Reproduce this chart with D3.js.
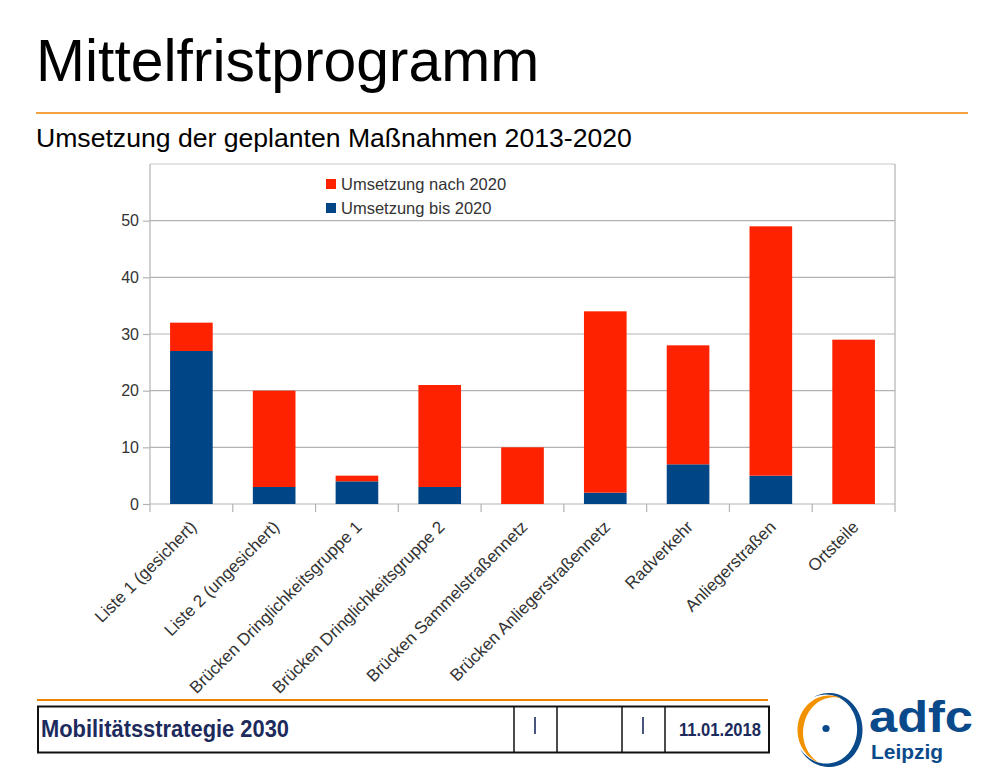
<!DOCTYPE html>
<html>
<head>
<meta charset="utf-8">
<script src="https://cdn.jsdelivr.net/npm/d3@7"></script>
<style>
  body { margin: 0; background: #fff; }
  svg { display: block; font-family: "Liberation Sans", Arial, sans-serif; }
</style>
</head>
<body>
<script>
// chart data
const categories = [
    "Liste 1 (gesichert)",
    "Liste 2 (ungesichert)",
    "Brücken Dringlichkeitsgruppe 1",
    "Brücken Dringlichkeitsgruppe 2",
    "Brücken Sammelstraßennetz",
    "Brücken Anliegerstraßennetz",
    "Radverkehr",
    "Anliegerstraßen",
    "Ortsteile"
];
const bisValues = [27, 3, 4, 3, 0, 2, 7, 5, 0];
const nachValues = [5, 17, 1, 18, 10, 32, 21, 44, 29];
const seriesNames = ["Umsetzung bis 2020", "Umsetzung nach 2020"];
const seriesColors = ["#004586", "#ff2200"];
const yTicks = [0, 10, 20, 30, 40, 50];

const width = 1000, height = 774;
const plot = {left: 150, right: 895, top: 164, bottom: 504};
const orange = "#f08300", navy = "#1c2a5c";

var svg = d3.select("body").append("svg")
    .attr("width", width)
    .attr("height", height);

// slide header
svg.append("text")
    .attr("x", 36).attr("y", 81)
    .attr("font-size", 58.8)
    .attr("fill", "#000")
    .text("Mittelfristprogramm");
svg.append("line")
    .attr("x1", 36).attr("x2", 968)
    .attr("y1", 113).attr("y2", 113)
    .attr("stroke", orange).attr("stroke-width", 1.5);
svg.append("text")
    .attr("x", 36).attr("y", 147)
    .attr("font-size", 26.6)
    .attr("fill", "#000")
    .text("Umsetzung der geplanten Maßnahmen 2013-2020");

// scales
var x = d3.scaleBand().domain(categories)
    .range([plot.left, plot.right])
    .paddingInner(0.485).paddingOuter(0.2425);
var y = d3.scaleLinear().domain([0, 60]).range([plot.bottom, plot.top]);
var step = x.step();
var boundary = i => plot.left + i * step;

var table = categories.map((c, i) => ({cat: c, bis: bisValues[i], nach: nachValues[i]}));
var stack = d3.stack().keys(["bis", "nach"])(table);

// grid
svg.append("g").selectAll("line").data(yTicks).enter()
    .append("line")
    .attr("x1", plot.left).attr("x2", plot.right)
    .attr("y1", d => y(d)).attr("y2", d => y(d))
    .attr("stroke", "#b3b3b3").attr("stroke-width", 1.2);
svg.append("line")
    .attr("x1", plot.left).attr("x2", plot.right)
    .attr("y1", plot.top).attr("y2", plot.top)
    .attr("stroke", "#c8c8c8").attr("stroke-width", 1.2);

// bars
svg.append("g").selectAll("g").data(stack).enter()
    .append("g")
    .attr("fill", (d, i) => seriesColors[i])
    .selectAll("rect")
    .data(d => d)
    .enter()
    .append("rect")
    .attr("x", d => x(d.data.cat))
    .attr("width", x.bandwidth())
    .attr("y", d => y(d[1]))
    .attr("height", d => y(d[0]) - y(d[1]));

// y axis
var yAxis = d3.axisLeft(y).tickValues(yTicks).tickSize(7).tickSizeOuter(0).tickPadding(4);
var ga = svg.append("g")
    .attr("transform", "translate(" + plot.left + ",0)")
    .call(yAxis);
ga.select(".domain").remove();
ga.selectAll(".tick line").attr("stroke", "#b3b3b3").attr("stroke-width", 1.2);
ga.selectAll(".tick text")
    .attr("font-size", 16)
    .attr("font-family", "Liberation Sans, Arial, sans-serif")
    .attr("fill", "#333");

// axis frame lines + category ticks
svg.append("g").selectAll("line").data(d3.range(categories.length + 1)).enter()
    .append("line")
    .attr("x1", i => boundary(i)).attr("x2", i => boundary(i))
    .attr("y1", i => (i === 0 || i === categories.length) ? plot.top : plot.bottom)
    .attr("y2", plot.bottom + 8)
    .attr("stroke", "#b3b3b3").attr("stroke-width", 1.2);

// category labels
svg.append("g").selectAll("text").data(categories).enter()
    .append("text")
    .attr("transform", d => "translate(" + (x(d) + x.bandwidth() / 2 + 6) + "," + (plot.bottom + 24) + ") rotate(-45)")
    .attr("text-anchor", "end")
    .attr("font-size", 17)
    .attr("fill", "#333")
    .text(d => d);

// legend (nach first, like the source)
var legendOrder = [1, 0];
var lg = svg.append("g").selectAll("g").data(legendOrder).enter()
    .append("g")
    .attr("transform", (d, i) => "translate(326," + (184 + i * 24) + ")");
lg.append("rect")
    .attr("x", 0).attr("y", -5)
    .attr("width", 10).attr("height", 10)
    .attr("fill", d => seriesColors[d]);
lg.append("text")
    .attr("x", 15).attr("y", 0)
    .attr("dy", "0.36em")
    .attr("font-size", 16.5)
    .attr("fill", "#333")
    .text(d => seriesNames[d]);

// footer
svg.append("line")
    .attr("x1", 37).attr("x2", 768)
    .attr("y1", 700).attr("y2", 700)
    .attr("stroke", orange).attr("stroke-width", 2);
svg.append("rect")
    .attr("x", 38).attr("y", 706.5)
    .attr("width", 731).attr("height", 46)
    .attr("fill", "none").attr("stroke", "#111").attr("stroke-width", 2);
svg.append("g").selectAll("line").data([514, 557, 622, 665]).enter()
    .append("line")
    .attr("x1", d => d).attr("x2", d => d)
    .attr("y1", 706.5).attr("y2", 752.5)
    .attr("stroke", "#111").attr("stroke-width", 1.5);
svg.append("text")
    .attr("x", 41).attr("y", 737)
    .attr("font-size", 23).attr("font-weight", "bold")
    .attr("fill", navy)
    .attr("textLength", 248).attr("lengthAdjust", "spacingAndGlyphs")
    .text("Mobilitätsstrategie 2030");
svg.append("g").selectAll("line").data([535, 643]).enter()
    .append("line")
    .attr("x1", d => d).attr("x2", d => d)
    .attr("y1", 717).attr("y2", 734)
    .attr("stroke", navy).attr("stroke-width", 1.6);
svg.append("text")
    .attr("x", 679).attr("y", 736)
    .attr("font-size", 19).attr("font-weight", "bold")
    .attr("fill", navy)
    .attr("textLength", 82).attr("lengthAdjust", "spacingAndGlyphs")
    .text("11.01.2018");

// adfc logo: two tapered elliptic crescents + dot
var lc = {x: 829, y: 730};
var blue = "#0a4a8a";
var logo = svg.append("g");

// builds a crescent polygon between angles a0..a1 (degrees), thickness tapering to 0 at both ends
function crescent(rx, ry, a0, a1, w) {
    var n = 60, outer = [], inner = [];
    for (var k = 0; k <= n; k++) {
        var t = (a0 + (a1 - a0) * k / n) * Math.PI / 180;
        var th = w * Math.sin(Math.PI * k / n);
        outer.push([lc.x + rx * Math.cos(t), lc.y + ry * Math.sin(t)]);
        inner.push([lc.x + (rx - th) * Math.cos(t), lc.y + (ry - th) * Math.sin(t)]);
    }
    return d3.line()(outer.concat(inner.reverse())) + "Z";
}
logo.append("path")
    .attr("d", crescent(33.5, 37, -118, 150, 5.5))
    .attr("fill", blue);
logo.append("path")
    .attr("d", crescent(31.5, 34.5, 108, 292, 6))
    .attr("fill", "#f39200");
logo.append("circle")
    .attr("cx", lc.x - 3).attr("cy", lc.y - 1.5).attr("r", 3.6)
    .attr("fill", blue);
logo.append("text")
    .attr("x", 869).attr("y", 732)
    .attr("font-size", 44).attr("font-weight", "bold")
    .attr("fill", blue)
    .attr("textLength", 104).attr("lengthAdjust", "spacingAndGlyphs")
    .text("adfc");
logo.append("text")
    .attr("x", 871).attr("y", 759)
    .attr("font-size", 19.5).attr("font-weight", "bold")
    .attr("fill", blue)
    .attr("textLength", 72).attr("lengthAdjust", "spacingAndGlyphs")
    .text("Leipzig");
</script>
</body>
</html>
